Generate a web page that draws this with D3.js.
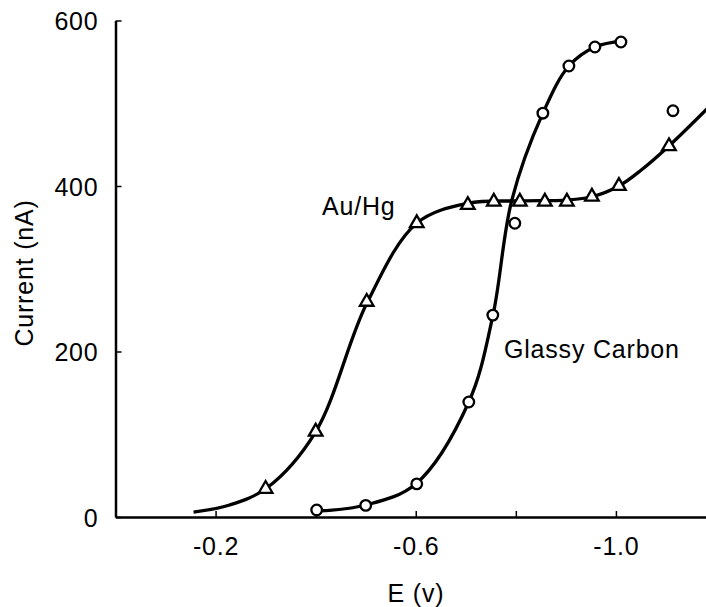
<!DOCTYPE html>
<html>
<head>
<meta charset="utf-8">
<script src="https://cdn.jsdelivr.net/npm/d3@7"></script>
<style>
  html, body { margin: 0; padding: 0; background: #fff; }
  svg { display: block; }
  text { font-family: "Liberation Sans", Arial, sans-serif; fill: #000; }
</style>
</head>
<body>
<div id="chart"></div>
<script>
// ---- data ----
// Au/Hg electrode: measured points (triangles)
const auHgE = [-0.300, -0.400, -0.502, -0.602, -0.704, -0.756, -0.808, -0.858, -0.902, -0.952, -1.006, -1.106];
const auHgI = [34, 103, 260, 355, 377, 381, 381, 381, 381, 387, 400, 448];
// Au/Hg fitted curve
const auHgFitE = [-0.156, -0.228, -0.302, -0.400, -0.502, -0.602, -0.704, -0.808, -0.902, -0.952, -1.006, -1.050, -1.107, -1.185];
const auHgFitI = [6, 14.5, 35, 103, 258, 355, 379, 382, 383, 387, 400, 419, 449, 495];

// Glassy carbon electrode: measured points (circles)
const gcE = [-0.402, -0.500, -0.602, -0.706, -0.754, -0.798, -0.854, -0.906, -0.958, -1.010, -1.114];
const gcI = [8.5, 14, 40, 139, 244, 355, 488, 545, 568, 574, 491];
// Glassy carbon fitted curve
const gcFitE = [-0.402, -0.500, -0.600, -0.706, -0.754, -0.792, -0.854, -0.906, -0.958, -1.014];
const gcFitI = [7, 14.5, 40, 139, 243, 383, 488, 545, 568, 575];

// axes
const xTicks = [-0.2, -0.4, -0.6, -0.8, -1.0];
const xTickLabels = ["-0.2", "", "-0.6", "", "-1.0"];
const yTicks = [0, 200, 400, 600];
const yTickLabels = ["0", "200", "400", "600"];
const xTitle = "E (v)";
const yTitle = "Current (nA)";
const seriesNames = ["Au/Hg", "Glassy Carbon"];

// ---- layout ----
const W = 706, H = 607;
const svg = d3.select("#chart").append("svg").attr("width", W).attr("height", H);

const x = d3.scaleLinear().domain([0, -1.18]).range([115.5, 706]);
const y = d3.scaleLinear().domain([0, 600]).range([517, 20.5]);

const fontSize = 25, ls = 0.8;

// x axis
const xAxis = d3.axisBottom(x)
  .tickValues(xTicks)
  .tickFormat((d, i) => xTickLabels[i])
  .tickSizeInner(-6).tickSizeOuter(0).tickPadding(20);
const gx = svg.append("g").attr("transform", `translate(0,${y(0)})`).call(xAxis);

// y axis
const yAxis = d3.axisLeft(y)
  .tickValues(yTicks)
  .tickFormat((d, i) => yTickLabels[i])
  .tickSizeInner(-6).tickSizeOuter(0).tickPadding(17);
const gy = svg.append("g").attr("transform", `translate(${x(0)},0)`).call(yAxis);

[gx, gy].forEach(g => {
  g.select(".domain").attr("stroke", "#000").attr("stroke-width", 2.5);
  g.selectAll(".tick line").attr("stroke", "#000").attr("stroke-width", 1.5);
  g.selectAll(".tick text")
    .attr("font-family", '"Liberation Sans", Arial, sans-serif')
    .attr("font-size", fontSize)
    .attr("letter-spacing", ls)
    .attr("fill", "#000");
});
gy.selectAll(".tick text").attr("dy", "0.36em");

// axis titles
svg.append("text")
  .attr("x", 416).attr("y", 602)
  .attr("text-anchor", "middle")
  .attr("font-size", fontSize).attr("letter-spacing", ls)
  .text(xTitle);
svg.append("text")
  .attr("transform", "translate(33,273) rotate(-90)")
  .attr("text-anchor", "middle")
  .attr("font-size", fontSize).attr("letter-spacing", ls)
  .text(yTitle);

// fitted lines
const line = d3.line().x(d => x(d[0])).y(d => y(d[1])).curve(d3.curveCatmullRom.alpha(0.5));
const auFit = auHgFitE.map((e, i) => [e, auHgFitI[i]]);
const gcFit = gcFitE.map((e, i) => [e, gcFitI[i]]);

const plot = svg.append("g");
plot.append("path").datum(auFit).attr("d", line)
  .attr("fill", "none").attr("stroke", "#000").attr("stroke-width", 3.3).attr("stroke-linecap", "butt");
plot.append("path").datum(gcFit).attr("d", line)
  .attr("fill", "none").attr("stroke", "#000").attr("stroke-width", 3.3).attr("stroke-linecap", "butt");

// markers
const tri = d3.symbol().type(d3.symbolTriangle).size(80);
plot.selectAll("path.tri").data(auHgE.map((e, i) => [e, auHgI[i]])).enter()
  .append("path").attr("class", "tri")
  .attr("d", tri)
  .attr("transform", d => `translate(${x(d[0])},${y(d[1])})`)
  .attr("fill", "#fff").attr("stroke", "#000").attr("stroke-width", 2.3);

plot.selectAll("circle.gc").data(gcE.map((e, i) => [e, gcI[i]])).enter()
  .append("circle").attr("class", "gc")
  .attr("cx", d => x(d[0])).attr("cy", d => y(d[1])).attr("r", 5.3)
  .attr("fill", "#fff").attr("stroke", "#000").attr("stroke-width", 2.3);

// series labels
svg.append("text").attr("x", 322).attr("y", 215)
  .attr("font-size", fontSize).attr("letter-spacing", ls).text(seriesNames[0]);
svg.append("text").attr("x", 504).attr("y", 358)
  .attr("font-size", fontSize).attr("letter-spacing", ls).text(seriesNames[1]);
</script>
</body>
</html>
